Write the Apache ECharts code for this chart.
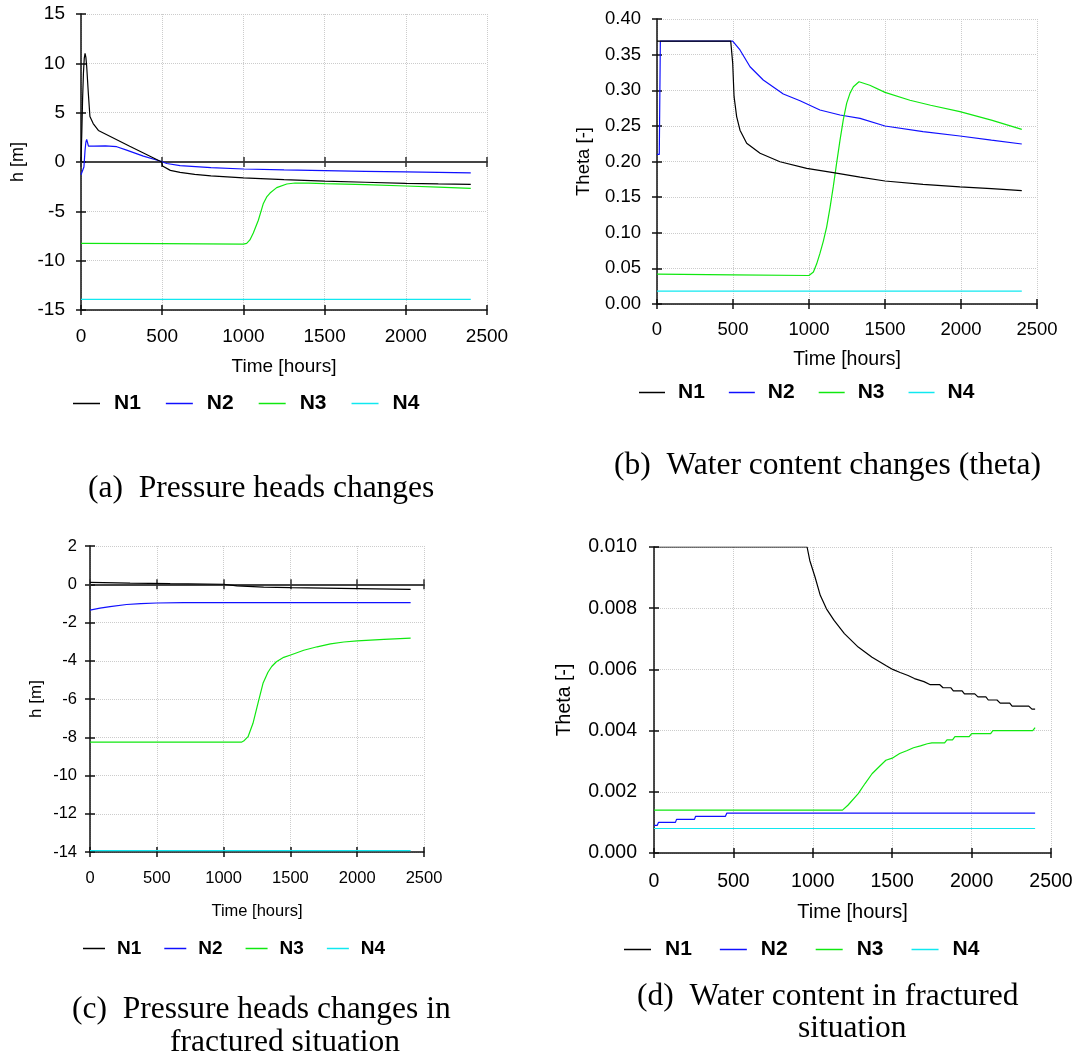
<!DOCTYPE html>
<html><head><meta charset="utf-8">
<script src="https://cdn.jsdelivr.net/npm/echarts@6/dist/echarts.min.js"></script>
<style>html,body{margin:0;padding:0;background:#fff}#c{width:1083px;height:1063px}</style>
</head><body><div id="c"></div>
<script>
// ---------- data ----------
const seriesNames = ['N1', 'N2', 'N3', 'N4'];
const seriesColors = ['#000000', '#1010ff', '#10e810', '#10e8f0'];
const timeMin = 0, timeMax = 2500, timeStep = 500;

// (a) pressure heads [m]
const aN1 = [[0,0],[5,3],[10,6.5],[15,9],[20,10.5],[25,11],[30,10.6],[35,9.7],[45,7],[55,4.6],[75,3.9],[107,3.2],[300,1.6],[497,0],[502,-0.4],[510,-0.6],[550,-0.85],[610,-1.05],[700,-1.25],[800,-1.4],[1000,-1.6],[1250,-1.78],[1500,-1.93],[1750,-2.05],[2000,-2.16],[2200,-2.22],[2400,-2.26]];
const aN2 = [[0,-1.3],[12,-1.3],[18,-0.5],[25,1.2],[30,2],[35,2.3],[40,2.1],[46,1.6],[55,1.55],[80,1.6],[150,1.63],[220,1.55],[281,1.2],[384,0.6],[486,0.1],[528,-0.15],[610,-0.37],[800,-0.57],[1000,-0.71],[1250,-0.8],[1500,-0.88],[1750,-0.95],[2000,-1.01],[2200,-1.06],[2400,-1.11]];
const aN3 = [[0,-8.25],[500,-8.28],[1000,-8.32],[1020,-8.24],[1040,-7.9],[1061,-7.2],[1092,-5.9],[1123,-4.2],[1145,-3.5],[1164,-3.15],[1205,-2.6],[1267,-2.23],[1318,-2.13],[1400,-2.15],[1500,-2.2],[1750,-2.3],[2000,-2.43],[2200,-2.55],[2400,-2.67]];
const aN4 = [[0,-13.93],[2400,-13.93]];

// (b) water content theta [-]
const bN1 = [[0,0.369],[485,0.369],[498,0.338],[507,0.291],[524,0.263],[546,0.244],[590,0.2255],[678,0.2115],[809,0.1997],[985,0.1904],[1160,0.1843],[1336,0.178],[1500,0.1726],[1750,0.168],[1993,0.1645],[2200,0.162],[2400,0.159]];
const bN2 = [[0,0.21],[15,0.21],[22,0.369],[498,0.369],[546,0.3565],[612,0.333],[699,0.3144],[831,0.2947],[941,0.2853],[1072,0.2723],[1204,0.2653],[1336,0.2606],[1500,0.2498],[1750,0.242],[1993,0.2358],[2200,0.23],[2400,0.2246]];
const bN3 = [[0,0.042],[500,0.041],[1000,0.04],[1029,0.045],[1050,0.056],[1072,0.071],[1094,0.088],[1116,0.108],[1138,0.135],[1160,0.165],[1182,0.198],[1204,0.23],[1226,0.259],[1248,0.282],[1270,0.296],[1292,0.305],[1329,0.312],[1400,0.307],[1500,0.297],[1664,0.286],[1800,0.279],[1993,0.27],[2200,0.258],[2400,0.245]];
const bN4 = [[0,0.018],[2400,0.018]];

// (c) pressure heads, fractured [m]
const cN1 = [[0,0.1],[300,0.06],[600,0.03],[1000,0],[1100,-0.08],[1300,-0.15],[1500,-0.18],[2000,-0.23],[2400,-0.27]];
const cN2 = [[0,-1.35],[75,-1.25],[150,-1.17],[274,-1.06],[380,-1.01],[499,-0.98],[700,-0.965],[2400,-0.96]];
const cN3 = [[0,-8.25],[1000,-8.26],[1133,-8.26],[1150,-8.2],[1183,-7.97],[1220,-7.27],[1257,-6.23],[1295,-5.18],[1332,-4.6],[1360,-4.3],[1395,-4.05],[1450,-3.82],[1502,-3.7],[1600,-3.45],[1700,-3.27],[1800,-3.12],[1900,-3.02],[2000,-2.96],[2200,-2.88],[2400,-2.82]];
const cN4 = [[0,-13.93],[2400,-13.93]];

// (d) water content, fractured [-]
const dN1 = [[0,0.01],[964,0.01],[981,0.00956],[1014,0.00902],[1047,0.00842],[1086,0.00798],[1134,0.0076],[1199,0.00717],[1286,0.00673],[1373,0.0064],[1460,0.00613],[1503,0.006],[1550,0.0059],[1600,0.0058],[1640,0.0057],[1700,0.0056],[1740,0.0055],[1800,0.0055],[1820,0.0054],[1870,0.0054],[1885,0.0053],[1940,0.0053],[1955,0.0052],[2020,0.0052],[2040,0.0051],[2090,0.0051],[2105,0.005],[2160,0.005],[2180,0.0049],[2240,0.0049],[2255,0.0048],[2360,0.0048],[2380,0.0047],[2400,0.0047]];
const dN2 = [[0,0.0009],[20,0.0009],[28,0.001],[135,0.001],[142,0.0011],[255,0.0011],[262,0.0012],[450,0.0012],[458,0.0013],[2400,0.0013]];
const dN3 = [[0,0.0014],[1187,0.0014],[1221,0.00156],[1286,0.00194],[1329,0.00227],[1373,0.00259],[1416,0.00281],[1460,0.00303],[1500,0.0031],[1547,0.00325],[1591,0.00334],[1634,0.00344],[1678,0.0035],[1721,0.00357],[1750,0.0036],[1830,0.0036],[1845,0.0037],[1880,0.0037],[1895,0.0038],[1985,0.0038],[2000,0.0039],[2120,0.0039],[2134,0.004],[2385,0.004],[2400,0.0041]];
const dN4 = [[0,0.0008],[2400,0.0008]];

const xAxisTitle = 'Time [hours]';
const captions = [
  ['(a)  Pressure heads changes'],
  ['(b)  Water content changes (theta)'],
  ['(c)  Pressure heads changes in', 'fractured situation'],
  ['(d)  Water content in fractured', 'situation']
];

// ---------- layout / style ----------
const SANS = "'Liberation Sans', Arial, sans-serif";

const panels = [
  { data:[aN1,aN2,aN3,aN4], grid:{left:81,top:14,width:406,height:296}, yMin:-15,yMax:15,yStep:5,yDec:0,
    yName:'h [m]', yNameGap:54, yNameSize:18, zero:true, tickSize:19, xNameSize:19, xNameGap:47,
    xLabMargin:17, yLabMargin:16, lg:{left:68, top:388, w:27, pad:9, gap:25, size:21} },
  { data:[bN1,bN2,bN3,bN4], grid:{left:657,top:19,width:380,height:285}, yMin:0,yMax:0.4,yStep:0.05,yDec:2,
    yName:'Theta [-]', yNameGap:64, yNameSize:18.5, zero:false, tickSize:18.5, xNameSize:19.5, xNameGap:46,
    xLabMargin:16, yLabMargin:16, lg:{left:634, top:377, w:26, pad:8, gap:24, size:21} },
  { data:[cN1,cN2,cN3,cN4], grid:{left:90,top:546,width:334,height:306}, yMin:-14,yMax:2,yStep:2,yDec:0,
    yName:'h [m]', yNameGap:45, yNameSize:17, zero:true, tickSize:16.5, xNameSize:16.5, xNameGap:51,
    xLabMargin:18, yLabMargin:13, lg:{left:78, top:934, w:22, pad:7, gap:23, size:19} },
  { data:[dN1,dN2,dN3,dN4], grid:{left:654,top:547,width:397,height:306}, yMin:0,yMax:0.01,yStep:0.002,yDec:3,
    yName:'Theta [-]', yNameGap:79, yNameSize:19.5, zero:false, tickSize:19.5, xNameSize:20, xNameGap:49,
    xLabMargin:19, yLabMargin:17, lg:{left:619, top:934, w:27, pad:9, gap:28, size:21} }
];
const captionPos = [
  [[88,489]],
  [[614,466]],
  [[72,1010],[170,1043]],
  [[637,997],[798,1029]]
];

const AX = '#111';
const grids = [], xAxes = [], yAxes = [], series = [], legends = [], graphics = [];

panels.forEach((p, gi) => {
  grids.push(Object.assign({ containLabel:false }, p.grid));
  const yMain = yAxes.length;
  yAxes.push({
    type:'value', gridIndex:gi, min:p.yMin, max:p.yMax, interval:p.yStep, position:'left',
    name:p.yName, nameLocation:'middle', nameGap:p.yNameGap, nameRotate:90,
    nameTextStyle:{ fontFamily:SANS, fontSize:p.yNameSize, color:'#000' },
    axisLine:{ show:true, onZero:false, lineStyle:{ color:AX, width:1.5 } },
    axisTick:{ show:true, inside:false, length:5, lineStyle:{ color:AX, width:1.5 } },
    axisLabel:{ margin:p.yLabMargin, fontFamily:SANS, fontSize:p.tickSize, color:'#000',
      formatter:v => v.toFixed(p.yDec) },
    splitLine:{ show:true, lineStyle:{ color:'#cccccc', type:'dotted', width:1 } }
  });
  yAxes.push({
    type:'value', gridIndex:gi, min:p.yMin, max:p.yMax, interval:p.yStep, position:'left',
    axisLine:{ show:false, onZero:false }, axisTick:{ show:true, inside:true, length:5, lineStyle:{ color:AX, width:1.5 } },
    axisLabel:{ show:false }, splitLine:{ show:false }
  });
  const xMain = xAxes.length;
  xAxes.push({
    type:'value', gridIndex:gi, min:timeMin, max:timeMax, interval:timeStep, position:'bottom',
    name:xAxisTitle, nameLocation:'middle', nameGap:p.xNameGap,
    nameTextStyle:{ fontFamily:SANS, fontSize:p.xNameSize, color:'#000' },
    axisLine:{ show:true, onZero:false, lineStyle:{ color:AX, width:1.5 } },
    axisTick:{ show:true, inside:false, length:5, lineStyle:{ color:AX, width:1.5 } },
    axisLabel:{ margin:p.xLabMargin, fontFamily:SANS, fontSize:p.tickSize, color:'#000',
      formatter:v => String(Math.round(v)) },
    splitLine:{ show:true, lineStyle:{ color:'#cccccc', type:'dotted', width:1 } }
  });
  xAxes.push({
    type:'value', gridIndex:gi, min:timeMin, max:timeMax, interval:timeStep, position:'bottom',
    axisLine:{ show:false, onZero:false }, axisTick:{ show:true, inside:true, length:5, lineStyle:{ color:AX, width:1.5 } },
    axisLabel:{ show:false }, splitLine:{ show:false }
  });
  if (p.zero) {
    [false, true].forEach(inside => {
      xAxes.push({
        type:'value', gridIndex:gi, min:timeMin, max:timeMax, interval:timeStep, position:'bottom',
        axisLine:{ show:!inside, onZero:true, onZeroAxisIndex:yMain, lineStyle:{ color:'#444', width:2 } },
        axisTick:{ show:true, inside:inside, length:5, lineStyle:{ color:'#333', width:1.5 } },
        axisLabel:{ show:false }, splitLine:{ show:false }
      });
    });
  }
  p.data.forEach((d, si) => {
    series.push({
      type:'line', name:seriesNames[si], xAxisIndex:xMain, yAxisIndex:yMain, data:d,
      showSymbol:false, symbol:'none', color:seriesColors[si],
      lineStyle:{ width:1.2, color:seriesColors[si] }, z:3 + (si === 0 ? 1 : 0)
    });
  });
  legends.push({
    left:p.lg.left, top:p.lg.top, orient:'horizontal', icon:'rect', itemWidth:p.lg.w, itemHeight:1.5,
    itemGap:p.lg.gap, selectedMode:false, data:seriesNames.slice(),
    textStyle:{ fontFamily:SANS, fontWeight:'bold', fontSize:p.lg.size, color:'#000', padding:[0,0,0,p.lg.pad] }
  });
  captions[gi].forEach((line, li) => {
    const pos = captionPos[gi][li];
    graphics.push({
      type:'text', x:pos[0], y:pos[1], silent:true,
      style:{ text:line, fill:'#000', font:"31.5px 'Liberation Serif', 'Times New Roman', serif", verticalAlign:'middle' }
    });
  });
});

const chart = echarts.init(document.getElementById('c'), null, { renderer:'canvas' });
chart.setOption({
  backgroundColor:'#ffffff', animation:false,
  grid:grids, xAxis:xAxes, yAxis:yAxes, series:series, legend:legends, graphic:graphics
});
</script></body></html>
